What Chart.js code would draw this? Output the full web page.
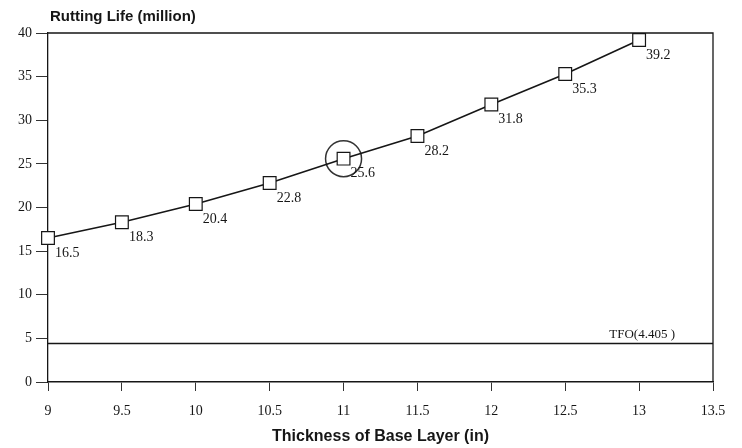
<!DOCTYPE html>
<html>
<head>
<meta charset="utf-8">
<script src="https://cdn.jsdelivr.net/npm/chart.js@4.4.1/dist/chart.umd.min.js"></script>
<style>
  html, body { margin: 0; padding: 0; background: #fff; }
  #wrap { width: 742px; height: 448px; position: relative; }
</style>
</head>
<body>
<div id="wrap"><canvas id="rutting"></canvas></div>
<script>
// base layer thickness (in) and rutting life (million)
const thickness = [9, 9.5, 10, 10.5, 11, 11.5, 12, 12.5, 13];
const ruttingLife = [16.5, 18.3, 20.4, 22.8, 25.6, 28.2, 31.8, 35.3, 39.2];
const pointLabels = ['16.5', '18.3', '20.4', '22.8', '25.6', '28.2', '31.8', '35.3', '39.2'];
// circled point
const highlightX = [11];
const highlightY = [25.6];
// TFO reference
const tfoValue = 4.405;
const tfoLabel = 'TFO(4.405 )';
const xRange = [9, 13.5];
const yRange = [0, 40];
const chartTitle = 'Rutting Life (million)';
const xTitle = 'Thickness of Base Layer (in)';

const ink = '#161616';
const serif = '"Liberation Serif", "Times New Roman", serif';
const sans = '"Liberation Sans", Arial, sans-serif';

// box on top/right, labels next to points, title on top
const extras = {
  id: 'extras',
  afterDatasetsDraw(chart) {
    const ctx = chart.ctx;
    const a = chart.chartArea;
    ctx.save();
    ctx.strokeStyle = ink;
    ctx.lineWidth = 1.3;
    ctx.beginPath();
    ctx.moveTo(a.left, a.top);
    ctx.lineTo(a.right, a.top);
    ctx.lineTo(a.right, a.bottom);
    ctx.stroke();

    ctx.fillStyle = ink;
    ctx.font = '14px ' + serif;
    ctx.textAlign = 'left';
    ctx.textBaseline = 'middle';
    chart.getDatasetMeta(0).data.forEach((pt, i) => {
      ctx.fillText(pointLabels[i], pt.x + 7, pt.y + 15);
    });

    const tfo = chart.getDatasetMeta(1).data;
    const end = tfo[tfo.length - 1];
    ctx.textAlign = 'right';
    ctx.textBaseline = 'bottom';
    ctx.font = '13px ' + serif;
    ctx.fillText(tfoLabel, end.x - 38, end.y - 2);

    ctx.font = 'bold 15px ' + sans;
    ctx.textAlign = 'left';
    ctx.textBaseline = 'middle';
    ctx.fillText(chartTitle, a.left + 2, 17);
    ctx.restore();
  }
};

new Chart(document.getElementById('rutting'), {
  type: 'scatter',
  data: {
    datasets: [{
      data: thickness.map((x, i) => ({ x: x, y: ruttingLife[i] })),
      showLine: true,
      clip: false,
      borderColor: ink,
      borderWidth: 1.6,
      pointStyle: 'rect',
      pointRadius: 9,
      pointBorderWidth: 1.2,
      pointBackgroundColor: '#fff',
      pointBorderColor: ink
    }, {
      data: [{ x: xRange[0], y: tfoValue }, { x: xRange[1], y: tfoValue }],
      showLine: true,
      borderColor: ink,
      borderWidth: 1.6,
      pointRadius: 0
    }, {
      data: highlightX.map((x, i) => ({ x: x, y: highlightY[i] })),
      clip: false,
      pointStyle: 'circle',
      pointRadius: 18,
      pointBorderWidth: 1.5,
      pointBackgroundColor: 'rgba(0,0,0,0)',
      pointBorderColor: '#333'
    }]
  },
  options: {
    responsive: true,
    maintainAspectRatio: false,
    animation: false,
    layout: { padding: { left: 0, top: 33, right: 29, bottom: 0 } },
    plugins: {
      legend: { display: false },
      tooltip: { enabled: false }
    },
    scales: {
      x: {
        type: 'linear',
        min: xRange[0],
        max: xRange[1],
        afterFit: (s) => { s.height = 66; },
        border: { color: ink, width: 1.6 },
        grid: { drawOnChartArea: false, drawTicks: true, tickLength: 9, color: '#333' },
        ticks: {
          stepSize: 0.5,
          color: ink,
          padding: 12,
          font: { family: serif, size: 14 },
          maxRotation: 0,
          callback: (v) => String(v)
        },
        title: {
          display: true,
          text: xTitle,
          color: ink,
          font: { family: sans, size: 16, weight: 'bold' },
          padding: { top: 0, bottom: 2 }
        }
      },
      y: {
        min: yRange[0],
        max: yRange[1],
        afterFit: (s) => { s.width = 48; },
        border: { color: ink, width: 1.3 },
        grid: { drawOnChartArea: false, drawTicks: true, tickLength: 12, color: '#333' },
        ticks: {
          stepSize: 5,
          color: ink,
          padding: 4,
          font: { family: serif, size: 14 },
          callback: (v) => String(v)
        }
      }
    }
  },
  plugins: [extras]
});
</script>
</body>
</html>
